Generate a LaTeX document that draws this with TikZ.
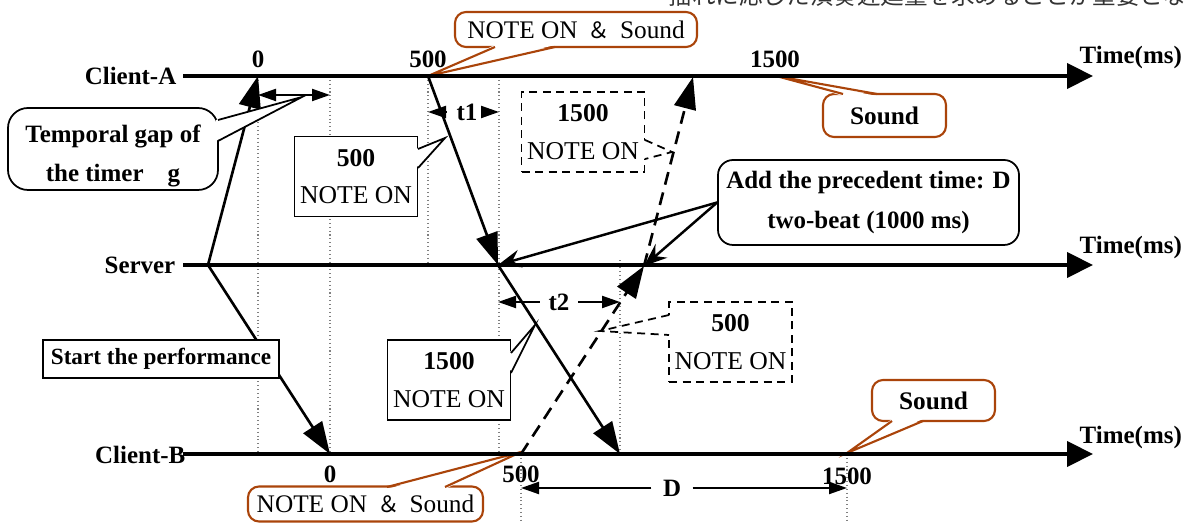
\documentclass[tikz,border=0pt]{standalone}
\usepackage{fontspec}
\setmainfont{Liberation Serif}
\newfontfamily\cjk{Noto Sans CJK JP}
\usetikzlibrary{arrows.meta, positioning}
\definecolor{callbrown}{RGB}{170,68,10}

\begin{document}
\begin{tikzpicture}[x=0.1mm, y=-0.1mm,
      bigtip/.tip={Triangle[length=2.6mm, width=2.5mm]},
      msgtip/.tip={Triangle[length=3.2mm, width=2.2mm]},
      dimtip/.tip={Triangle[length=1.8mm, width=1.2mm]},
      axis/.style={line width=1.2pt, -bigtip},
      msg/.style={line width=0.75pt, -msgtip},
      dmsg/.style={msg, dash pattern=on 1.3mm off 0.8mm},
      addarr/.style={line width=0.7pt, -{Stealth[length=2.3mm, width=1.8mm, inset=0.8mm]}},
      dim/.style={line width=0.6pt, -dimtip},
      gaparr/.style={line width=0.6pt, dimtip-dimtip},
      guide/.style={gray, line width=0.3pt, dash pattern=on 0.3pt off 0.8pt},
      lab/.style={inner sep=0pt, font=\fontsize{7.1}{8}\selectfont\bfseries},
      dimlab/.style={lab, inner xsep=0.9mm},
      msgbox/.style={rectangle, draw, fill=white, line width=0.5pt, align=center, inner sep=0pt,
                     minimum width=12.3mm, minimum height=8mm, font=\fontsize{7.3}{10.6}\selectfont},
      dmsgbox/.style={msgbox, dash pattern=on 0.8mm off 0.55mm},
      notebox/.style={rectangle, draw, fill=white, rounded corners=2mm, line width=0.5pt, align=center,
                      inner sep=0pt, font=\fontsize{7.1}{11.2}\selectfont\bfseries},
      soundbox/.style={rectangle, draw=callbrown, fill=white, rounded corners=1.1mm, line width=0.6pt,
                       inner sep=0pt, minimum height=3.5mm, font=\fontsize{7.2}{8}\selectfont}]
  \useasboundingbox (0,0) rectangle (1186,523);
  % page text above the figure, cut by the border
  \begin{scope}
    \clip (0,0) rectangle (1186,523);
    \node[anchor=west, inner sep=0pt, text=black!80, font=\cjk\fontsize{6.7}{8}\selectfont] (hdr) at (668,-4) {揺れに応じた演奏遅延量を求めることが重要とな};
  \end{scope}

  % time axes and points on them
  \coordinate (Ast) at (183,76);   \coordinate (Aend) at (1093,76);
  \coordinate (Sst) at (183,265);  \coordinate (Send) at (1093,265);
  \coordinate (Bst) at (183,454);  \coordinate (Bend) at (1093,454);
  \coordinate (A0) at (258,76);    \coordinate (Ag) at (330,76);
  \coordinate (A500) at (428,76);  \coordinate (At1) at (499,76);
  \coordinate (Ad) at (693,77);    \coordinate (A1500) at (775,76);
  \coordinate (S0) at (208,265);   \coordinate (S500) at (498,265);
  \coordinate (Sd) at (644,266);
  \coordinate (B0) at (330,454);   \coordinate (B500) at (521,454);
  \coordinate (Bt2) at (620,454);  \coordinate (B1500) at (847,454);

  % dotted guides
  \draw[guide] (A0) -- (A0 |- Bst);
  \draw[guide] (Ag) -- (Ag |- Bst);
  \draw[guide] (A500) -- (A500 |- Sst);
  \draw[guide] (At1) -- (At1 |- Bst);
  \draw[guide] (Bt2) -- ++(0,-196);
  \draw[guide] (B500) -- ++(0,69);
  \draw[guide] (B1500) -- ++(0,69);

  % messages
  \draw[msg] (S0) -- (A0);
  \draw[msg] (S0) -- (B0);
  \draw[msg] (A500) -- (S500);
  \draw[msg] (S500) -- (Bt2);
  \draw[dmsg] (B500) -- (Sd);
  \draw[dmsg] (Sd) -- (Ad);

  % gaps
  \coordinate (g1) at (258,95); \coordinate (g2) at (330,95);
  \draw[gaparr] (g1) -- (g2);
  \node[dimlab] (t1) at (467,112) {t1};
  \draw[dim] (t1) -- (t1 -| A500); \draw[dim] (t1) -- (t1 -| At1);
  \node[dimlab, inner xsep=0.8mm] (t2) at (559,302) {t2};
  \draw[dim] (t2) -- (t2 -| S500); \draw[dim] (t2) -- (t2 -| Bt2);
  \node[dimlab, inner xsep=1.1mm] (dl) at (672,488) {D};
  \draw[dim] (dl) -- (dl -| B500); \draw[dim] (dl) -- (dl -| B1500);

  % callouts
  \node[notebox, minimum width=21mm, minimum height=8.2mm] (gap) at (113,149) {\rule{0pt}{3.2mm}Temporal gap of\\the timer\hspace{2.4mm}g};
  \fill[white] (216,120) -- (302,97) -- (216,141) -- cycle;
  \draw[line width=0.5pt] (218,120) -- (302,97) -- (218,141);

  \node[msgbox] (n500) at (356,176.5) {\textbf{500}\\NOTE ON};
  \fill[white] (416,149) -- (445,138) -- (416,168) -- cycle;
  \draw[line width=0.5pt] (418,149) -- (445,138) -- (418,168);

  \node[dmsgbox] (n1500) at (583,132) {\textbf{1500}\\NOTE ON};
  \fill[white] (643,140) -- (672,152) -- (643,159) -- cycle;
  \draw[line width=0.5pt, dash pattern=on 0.8mm off 0.55mm] (645,140) -- (672,152) -- (645,159);

  \node[msgbox] (m1500) at (449,380) {\textbf{1500}\\NOTE ON};
  \fill[white] (509,353) -- (535,325) -- (509,373) -- cycle;
  \draw[line width=0.5pt] (511,353) -- (535,325) -- (511,373);

  \node[dmsgbox] (m500) at (730.5,342) {\textbf{500}\\NOTE ON};
  \fill[white] (671,315) -- (600,331) -- (671,335) -- cycle;
  \draw[line width=0.5pt, dash pattern=on 0.8mm off 0.55mm] (669,315) -- (600,331) -- (669,335);

  \node[msgbox, minimum width=23.6mm, minimum height=3.8mm, font=\fontsize{6.6}{8}\selectfont\bfseries] (start) at (161,359) {Start the performance};

  \node[notebox, rounded corners=1.5mm, minimum width=30.1mm, minimum height=8.5mm] (add) at (868.5,202.5) {Add the precedent time: D\\two-beat (1000 ms)};
  \draw[addarr] (add.west) -- (S500);
  \draw[addarr] (add.west) -- (Sd);

  \node[soundbox, minimum width=24.2mm] (ns1) at (576,29.5) {NOTE ON\hspace{1mm}{\cjk\fontsize{6.4}{8}\selectfont ＆}\hspace{1mm}Sound};
  \fill[white] (495,45) -- (428,76) -- (555,45) -- cycle;
  \draw[callbrown, line width=0.6pt] (495,47) -- (428,76) -- (555,47);

  \node[soundbox, minimum width=23.5mm] (ns2) at (365.5,504) {NOTE ON\hspace{1mm}{\cjk\fontsize{6.4}{8}\selectfont ＆}\hspace{1mm}Sound};
  \fill[white] (387,489) -- (521,452) -- (445,489) -- cycle;
  \draw[callbrown, line width=0.6pt] (387,487) -- (521,452) -- (445,487);

  \node[soundbox, minimum width=12.3mm, minimum height=4.3mm, font=\fontsize{7.2}{8}\selectfont\bfseries] (s1) at (884.5,115.5) {Sound};
  \fill[white] (843,96) -- (776,76) -- (877,96) -- cycle;
  \draw[callbrown, line width=0.6pt] (843,94) -- (776,76) -- (877,94);

  \node[soundbox, minimum width=12.3mm, minimum height=4.1mm, font=\fontsize{7.2}{8}\selectfont\bfseries] (s2) at (933.5,400.5) {Sound};
  \fill[white] (892,419) -- (847,453) -- (923,419) -- cycle;
  \draw[callbrown, line width=0.6pt] (892,421) -- (847,453) -- (923,421);

  % axes on top
  \draw[axis] (Ast) -- (Aend);
  \draw[axis] (Sst) -- (Send);
  \draw[axis] (Bst) -- (Bend);
  \node[lab, left=0.6mm of Ast] (ca) {Client-A};
  \node[lab, left=0.7mm of Sst] (srv) {Server};
  \node[lab, anchor=east] (cb) at (186,455) {Client-B};
  \node[lab, anchor=west] (ta) at (1079,58) {Time(ms)};
  \node[lab, anchor=west] (ts) at (1079,248) {Time(ms)};
  \node[lab, anchor=west] (tb) at (1079,438) {Time(ms)};

  % tick values
  \node[lab, above=0.8mm of A0] (a0) {0};
  \node[lab, above=0.8mm of A500] (a500) {500};
  \node[lab, above=0.8mm of A1500] (a1500) {1500};
  \node[lab, below=1.1mm of B0] (b0) {0};
  \node[lab, below=1.1mm of B500] (b500) {500};
  \node[lab, below=1.3mm of B1500] (b1500) {1500};
\end{tikzpicture}
\end{document}
